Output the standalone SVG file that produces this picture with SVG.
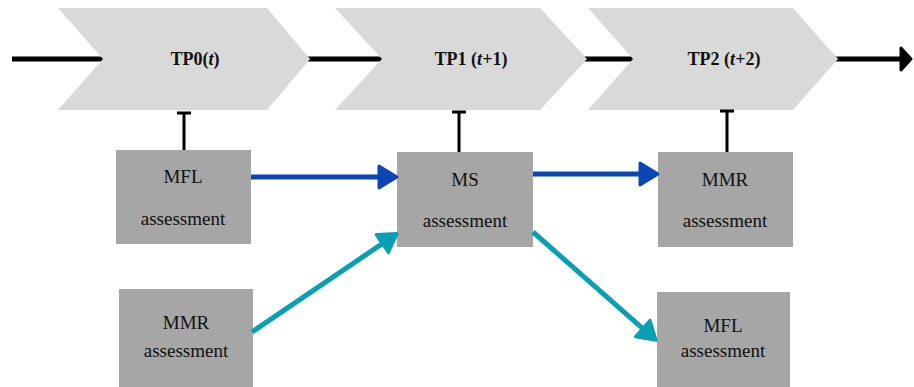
<svg xmlns="http://www.w3.org/2000/svg" width="914" height="387" viewBox="0 0 914 387">
<style>
.chev{fill:#d9d9d9}
.box{fill:#a6a6a6}
.tp{font-family:'Liberation Serif','Times New Roman','DejaVu Serif',serif;font-weight:bold;font-size:18px;fill:#111;text-anchor:middle}
.lbl{font-family:'Liberation Serif','Times New Roman','DejaVu Serif',serif;font-size:19px;fill:#111;text-anchor:middle}
.tick{stroke:#000;stroke-width:3;fill:none}
.blue{stroke:#0a47b4;stroke-width:5;fill:none}
.teal{stroke:#09a0b6;stroke-width:5;fill:none}
.axis{stroke:#000;stroke-width:5;fill:none}
</style>
<defs>
<marker id="ah-blue" markerUnits="userSpaceOnUse" markerWidth="24" markerHeight="28" refX="4" refY="12" orient="auto" overflow="visible">
<path d="M0,1 L18,12 L0,23 z" fill="#0a47b4" stroke="#0a47b4" stroke-width="3" stroke-linejoin="round"/>
</marker>
<marker id="ah-teal" markerUnits="userSpaceOnUse" markerWidth="24" markerHeight="28" refX="4" refY="12" orient="auto" overflow="visible">
<path d="M0,1 L18,12 L0,23 z" fill="#09a0b6" stroke="#09a0b6" stroke-width="3" stroke-linejoin="round"/>
</marker>
<marker id="ah-black" markerUnits="userSpaceOnUse" markerWidth="16" markerHeight="26" refX="2" refY="12" orient="auto" overflow="visible">
<path d="M0,1 L10,12 L0,23 z" fill="#000" stroke="#000" stroke-width="3" stroke-linejoin="round"/>
</marker>
</defs>
<rect width="914" height="387" fill="#fff"/>
<g id="connectors">
<line class="axis" x1="12" y1="59" x2="903" y2="59" marker-end="url(#ah-black)"/>
</g>
<g id="tp0">
<polygon class="chev" points="58,8 267,8 310,59 267,110 58,110 103,59"/>
<text class="tp" x="195" y="65">TP0(<tspan font-style="italic">t</tspan>)</text>
</g>
<g id="tp1">
<polygon class="chev" points="335,8 540,8 587,59 540,110 335,110 382,59"/>
<text class="tp" x="471" y="65">TP1 (<tspan font-style="italic">t</tspan>+1)</text>
</g>
<g id="tp2">
<polygon class="chev" points="588,8 793,8 838,59 793,110 588,110 633,59"/>
<text class="tp" x="724" y="65">TP2 (<tspan font-style="italic">t</tspan>+2)</text>
</g>
<g id="mfl1">
<rect class="box" x="116" y="150" width="135" height="94"/>
<text class="lbl" x="183" y="183">MFL</text>
<text class="lbl" x="183" y="225">assessment</text>
</g>
<g id="ms">
<rect class="box" x="397" y="152" width="136" height="95"/>
<text class="lbl" x="465" y="186">MS</text>
<text class="lbl" x="465" y="227">assessment</text>
</g>
<g id="mmr2">
<rect class="box" x="658" y="152" width="135" height="95"/>
<text class="lbl" x="725" y="186">MMR</text>
<text class="lbl" x="725" y="227">assessment</text>
</g>
<g id="mmr1">
<rect class="box" x="119" y="289" width="134" height="100"/>
<text class="lbl" x="186" y="329">MMR</text>
<text class="lbl" x="186" y="357">assessment</text>
</g>
<g id="mfl2">
<rect class="box" x="657" y="292" width="133" height="97"/>
<text class="lbl" x="723" y="332">MFL</text>
<text class="lbl" x="723" y="357">assessment</text>
</g>
<g id="links">
<path class="tick" d="M184,150 V113 M177,113 H191"/>
<path class="tick" d="M459,152 V112 M452,112 H466"/>
<path class="tick" d="M727,152 V111 M720,111 H734"/>
<line class="blue" x1="251" y1="177" x2="383" y2="177" marker-end="url(#ah-blue)"/>
<line class="blue" x1="533" y1="174" x2="644" y2="174" marker-end="url(#ah-blue)"/>
<line class="teal" x1="252" y1="332" x2="385.6" y2="241.4" marker-end="url(#ah-teal)"/>
<line class="teal" x1="533" y1="232" x2="645.7" y2="331.1" marker-end="url(#ah-teal)"/>
</g>
</svg>
